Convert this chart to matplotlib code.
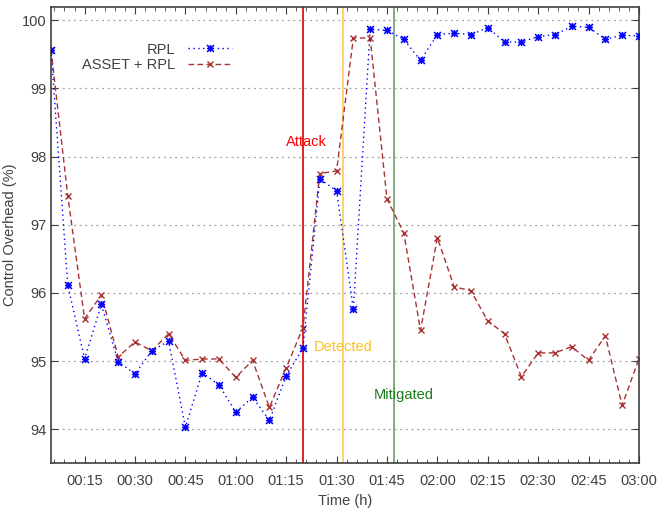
import matplotlib
matplotlib.use("Agg")
import matplotlib.pyplot as plt
from matplotlib.path import Path
from matplotlib.ticker import MultipleLocator, FuncFormatter

plt.rcParams['font.family'] = ['Liberation Sans', 'DejaVu Sans']

# time in minutes, one sample every 5 min
minutes = list(range(5, 181, 5))

rpl = [99.57, 96.11, 95.03, 95.83, 94.99, 94.81, 95.15, 95.29, 94.03, 94.83,
       94.65, 94.25, 94.47, 94.13, 94.78, 95.19, 97.67, 97.50, 95.76, 99.87,
       99.85, 99.72, 99.41, 99.79, 99.81, 99.79, 99.89, 99.68, 99.68, 99.76,
       99.79, 99.91, 99.90, 99.72, 99.78, 99.77]

asset_rpl = [99.57, 97.42, 95.62, 95.97, 95.06, 95.28, 95.15, 95.40, 95.01, 95.03,
             95.03, 94.76, 95.01, 94.32, 94.90, 95.49, 97.75, 97.79, 99.74, 99.74,
             97.38, 96.88, 95.45, 96.81, 96.09, 96.03, 95.59, 95.40, 94.77, 95.12,
             95.12, 95.21, 95.01, 95.37, 94.35, 95.03]

events = ["Attack", "Detected", "Mitigated"]
event_times = [80, 92, 107]
label_pos = [(81, 98.21), (92, 95.2), (110, 94.5)]
line_colors = ["#d80000", "#ffc857", "#6a9f6a"]
text_colors = ["#ff0000", "#ffc020", "#1e7b1e"]

dark = "#404040"
fs = 10.5

# gnuplot style asterisk: plus and cross together
M, L = Path.MOVETO, Path.LINETO
asterisk = Path([(-1, 0), (1, 0), (0, -1), (0, 1), (-1, -1), (1, 1), (-1, 1), (1, -1)],
                [M, L, M, L, M, L, M, L])

fig = plt.figure(figsize=(6.58, 5.08), dpi=100)
ax = fig.add_axes([0.0775, 0.088, 0.8935, 0.899])

for name, t, pos, lc, tc in zip(events, event_times, label_pos, line_colors, text_colors):
    ax.axvline(t, color=lc, linewidth=1.2, zorder=1)
    ax.text(pos[0], pos[1], name, color=tc, fontsize=fs, ha="center", va="center")

ax.plot(minutes, rpl, color="#0000ff", linestyle=(0, (1, 2.5)), linewidth=1,
        marker=asterisk, markersize=5, markeredgewidth=1.1, label="RPL", zorder=3)
ax.plot(minutes, asset_rpl, color="#a83232", linestyle=(0, (4, 2.5)), linewidth=1,
        marker="x", markersize=4.5, markeredgewidth=1, label="ASSET + RPL", zorder=2)

ax.set_xlim(5, 180)
ax.set_ylim(93.5, 100.2)
ax.xaxis.set_major_locator(MultipleLocator(15))
ax.xaxis.set_minor_locator(MultipleLocator(3))
ax.xaxis.set_major_formatter(FuncFormatter(lambda v, p: f"{int(v) // 60:02d}:{int(v) % 60:02d}"))
ax.yaxis.set_major_locator(MultipleLocator(1))

ax.grid(axis="y", color="#a0a0a0", linestyle=(0, (1.5, 3)), linewidth=0.9)
ax.tick_params(which="both", direction="in", top=True, right=True, colors=dark,
               labelsize=fs, labelcolor=dark)
ax.tick_params(which="major", length=5)
ax.tick_params(which="minor", length=3)
ax.tick_params(axis="x", pad=8)
for s in ax.spines.values():
    s.set_color(dark)
    s.set_linewidth(1.2)

ax.set_xlabel("Time (h)", fontsize=fs, color=dark, labelpad=4)
ax.set_ylabel("Control Overhead (%)", fontsize=fs, color=dark, labelpad=3)

leg = ax.legend(loc="upper left", bbox_to_anchor=(0.03, 0.95), markerfirst=False,
                frameon=False, fontsize=fs, handlelength=3, labelspacing=0.1,
                handletextpad=0.9)
for t in leg.get_texts():
    t.set_color(dark)
    t.set_ha("right")
leg._legend_box.align = "right"

fig.savefig("out.png", dpi=100)
